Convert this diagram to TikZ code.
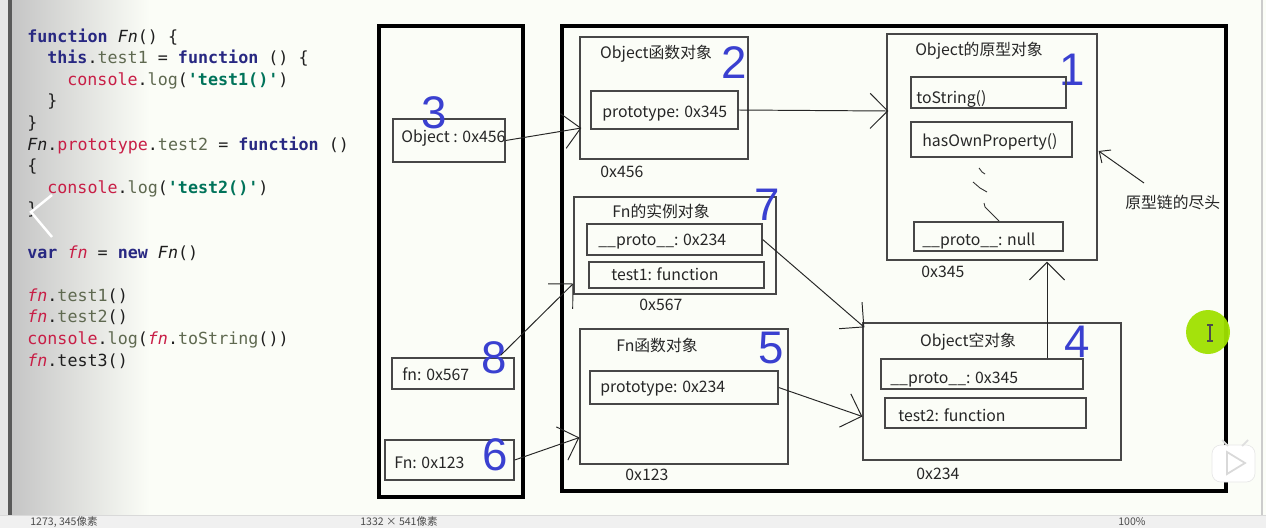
\documentclass[tikz,border=0pt]{standalone}
\usepackage{fontspec}
\setmonofont{DejaVu Sans Mono}
\newfontfamily\cjk{Noto Sans CJK SC}
\newfontfamily\numfont{Liberation Sans}
\usetikzlibrary{arrows.meta,fit,calc}
\definecolor{bgc}{RGB}{251,253,247}
\definecolor{kwc}{RGB}{40,40,130}
\definecolor{redc}{RGB}{200,30,70}
\definecolor{olc}{RGB}{95,105,80}
\definecolor{strc}{RGB}{0,115,90}
\definecolor{txc}{RGB}{30,30,30}
\definecolor{bluec}{RGB}{58,64,208}
\definecolor{greenc}{RGB}{160,225,0}
\newcommand\jkw[1]{{\color{kwc}\bfseries #1}}
\newcommand\jred[1]{{\color{redc}#1}}
\newcommand\jol[1]{{\color{olc}#1}}
\newcommand\jstr[1]{{\color{strc}\bfseries #1}}
\newcommand\jfnc[1]{{\color{txc}\itshape #1}}
\newcommand\jfnv[1]{{\color{redc}\itshape #1}}
\tikzset{
  code/.style={anchor=base west, inner sep=0pt, font=\ttfamily\fontsize{9.5pt}{11pt}\selectfont, text=txc},
  obox/.style={draw=black!72, line width=0.75pt, inner sep=0pt},
  tbox/.style={draw=black, line width=1.9pt, inner sep=0pt},
  lbl/.style={anchor=base west, inner sep=0pt, font=\cjk\fontsize{9pt}{11pt}\selectfont, text=black!85},
  ttl/.style={anchor=base, inner sep=0pt, font=\cjk\fontsize{9pt}{11pt}\selectfont, text=black!85},
  num/.style={anchor=base, inner sep=0pt, font=\numfont\fontsize{26pt}{28pt}\selectfont, text=bluec},
  arr/.style={draw=black!85, line width=0.55pt, -{Straight Barb[length=10pt,width=20pt]}},
  arrsmall/.style={draw=black!85, line width=0.55pt, -{Straight Barb[length=5pt,width=9pt]}},
  stat/.style={anchor=base west, inner sep=0pt, font=\cjk\fontsize{6pt}{7pt}\selectfont, text=black!70}
}
\begin{document}
\begin{tikzpicture}[x=0.02cm,y=-0.02cm]
\useasboundingbox (0,0) rectangle (1266,528);
% background
\fill[bgc] (0,0) rectangle (1266,528);
\fill[gray!20] (0,0) rectangle (8,515);
\shade[left color=gray!45, right color=bgc] (12,0) rectangle (150,515);
\fill[black!65] (8,0) rectangle (12,515);
\draw[gray!40, line width=1pt] (1262,0) -- (1262,515);
\fill[gray!12] (0,515) rectangle (1266,528);
\draw[gray!30] (0,515) -- (1266,515);

% code
\node[code] (c0) at (27,42.0) {\jkw{function} \jfnc{Fn}() \{};
\node[code] (c1) at (47,63.6) {\jkw{this}.\jol{test1} = \jkw{function} () \{};
\node[code] (c2) at (67,85.2) {\jred{console}.\jol{log}(\jstr{'test1()'})};
\node[code] (c3) at (47,106.8) {\}};
\node[code] (c4) at (27,128.4) {\}};
\node[code] (c5) at (27,150.0) {\jfnc{Fn}.\jred{prototype}.\jol{test2} = \jkw{function} ()};
\node[code] (c6) at (27,171.6) {\{};
\node[code] (c7) at (47,193.2) {\jred{console}.\jol{log}(\jstr{'test2()'})};
\node[code] (c8) at (27,214.8) {\}};
\node[code] (c10) at (27,258.0) {\jkw{var} \jfnv{fn} = \jkw{new} \jfnc{Fn}()};
\node[code] (c12) at (27,301.2) {\jfnv{fn}.\jol{test1}()};
\node[code] (c13) at (27,322.8) {\jfnv{fn}.\jol{test2}()};
\node[code] (c14) at (27,344.4) {\jred{console}.\jol{log}(\jfnv{fn}.\jol{toString}())};
\node[code] (c15) at (27,366.0) {\jfnv{fn}.test3()};
% chevron overlay
\draw[white, line width=1.4pt] (52,195) -- (31,212) -- (52,237);

% stack and heap
\node[tbox, fit={(379,26)(523,497)}] (stack) {};
\node[tbox, fit={(562,26)(1226,491)}] (heap) {};

% stack entries
\node[obox, fit={(393,119)(505,162)}] (o456) {};
\node[lbl] (o456t) at (401,142) {Object : 0x456};
\node[num] (n3) at (434,128) {3};
\node[obox, fit={(392,358)(514,389)}] (fn567) {};
\node[lbl] (fn567t) at (402,380) {fn: 0x567};
\node[num] (n8) at (494,373) {8};
\node[obox, fit={(385,440)(514,480)}] (Fn123) {};
\node[lbl] (Fn123t) at (394,468) {Fn: 0x123};
\node[num] (n6) at (495,470) {6};

% Object function object (2)
\node[obox, fit={(580,37)(748,159)}] (objfn) {};
\node[ttl] (objfnt) at (656,58) {Object函数对象};
\node[num] (n2) at (734,78) {2};
\node[obox, fit={(591,91)(738,129)}] (p345) {};
\node[lbl] (p345t) at (602,117) {prototype: 0x345};
\node[lbl] (a456) at (600,177) {0x456};

% Object prototype object (1)
\node[obox, fit={(887,34)(1097,260)}] (box1) {};
\node[ttl] (box1t) at (979,55) {Object的原型对象};
\node[num] (n1) at (1072,85) {1};
\node[obox, fit={(911,77)(1066,108)}] (tostr) {};
\node[lbl] (tostrt) at (916,103) {toString()};
\node[obox, fit={(911,122)(1072,157)}] (hasown) {};
\node[lbl] (hasownt) at (922,146) {hasOwnProperty()};
\node[obox, fit={(914,222)(1063,251)}] (pnull) {};
\node[lbl] (pnullt) at (922,245) {\_\_proto\_\_: null};
\node[lbl] (a345) at (921,277) {0x345};
\draw[black!80, line width=0.5pt] (979,168) -- (982,172) -- (985,174);
\draw[black!80, line width=0.5pt] (973,182) -- (980,188) -- (987,192);
\draw[black!80, line width=0.5pt] (984,203) -- (985,207) -- (993,215) -- (999,221);
\node[lbl] (notet) at (1125,208) {原型链的尽头};
\coordinate (notept) at (1144,183);

% Fn instance object (7)
\node[obox, fit={(574,197)(776,294)}] (inst) {};
\node[ttl] (instt) at (661,217) {Fn的实例对象};
\node[num] (n7) at (767,220) {7};
\node[obox, fit={(587,224)(762,255)}] (pr234) {};
\node[lbl] (pr234t) at (598,245) {\_\_proto\_\_: 0x234};
\node[obox, fit={(589,262)(764,288)}] (t1) {};
\node[lbl] (t1t) at (611,280) {test1: function};
\node[lbl] (a567) at (639,310) {0x567};

% Fn function object (5)
\node[obox, fit={(580,329)(788,464)}] (fnfn) {};
\node[ttl] (fnfnt) at (657,351) {Fn函数对象};
\node[num] (n5) at (771,363) {5};
\node[obox, fit={(590,371)(778,404)}] (p234) {};
\node[lbl] (p234t) at (600,392) {prototype: 0x234};
\node[lbl] (a123) at (625,480) {0x123};

% Object empty object (4)
\node[obox, fit={(863,323)(1121,460)}] (objE) {};
\node[ttl] (objEt) at (968,346) {Object空对象};
\node[num] (n4) at (1077,357) {4};
\node[obox, fit={(881,359)(1083,389)}] (pr345) {};
\node[lbl] (pr345t) at (890,383) {\_\_proto\_\_: 0x345};
\node[obox, fit={(885,398)(1086,428)}] (t2) {};
\node[lbl] (t2t) at (898,421) {test2: function};
\node[lbl] (a234) at (916,479) {0x234};

% connectors
\draw[arr] (o456.east) -- ($(objfn.west)+(2,30)$);
\draw[arr] (p345.east) -- ($(box1.west)+(2,-36)$);
\draw[arr] ($(fn567.north east)+(-14,-2)$) -- ($(inst.west)+(0,38)$);
\draw[arr] (Fn123.east) -- ($(fnfn.west)+(0,41)$);
\draw[arr] (pr234.east) -- ($(objE.north west)+(2,5)$);
\draw[arr] (p234.east) -- ($(objE.west)+(0,25)$);
\draw[arr] ($(pr345.north)+(65,0)$) -- ($(box1.south)+(55,1)$);
\draw[arrsmall] (notept) -- ($(box1.east)+(1,4)$);

% cursor highlight
\node[circle, fill=greenc, minimum size=0.88cm, inner sep=0pt, opacity=0.95] (cursor) at (1208,332) {};
\draw[black!70, line width=0.6pt] (1210,325) -- (1210,341) (1207,325) -- (1213,325) (1207,341) -- (1213,341);

% play icon
\draw[gray!18, fill=white, rounded corners=5pt] (1212,445) rectangle (1255,482);
\draw[gray!25, line width=1pt] (1222,440) -- (1228,446) (1248,440) -- (1242,446);
\draw[gray!30, line width=1pt, fill=white] (1227,452) -- (1245,463) -- (1227,474) -- cycle;

% status bar
\node[stat] (s1) at (30,525) {1273, 345像素};
\node[stat] (s2) at (360,525) {1332 × 541像素};
\node[stat] (s3) at (1118,525) {100\%};
\end{tikzpicture}
\end{document}
